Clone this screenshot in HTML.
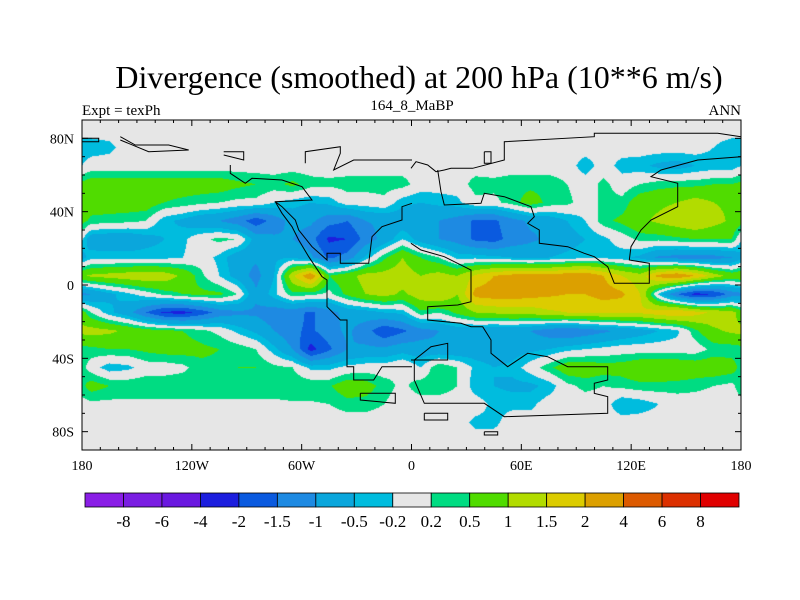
<!DOCTYPE html>
<html><head><meta charset="utf-8">
<style>
body{margin:0;background:#fff;width:800px;height:600px;overflow:hidden;font-family:"Liberation Serif",serif}
#wrap{position:relative;width:800px;height:600px}
canvas{position:absolute;left:82px;top:120px}
svg{position:absolute;left:0;top:0}
</style></head><body>
<div id="wrap">
<canvas id="cv" width="659" height="330"></canvas>
<svg id="sv" width="800" height="600">
<text x="419" y="88" text-anchor="middle" font-size="32" font-family="Liberation Serif,serif">Divergence (smoothed) at 200 hPa (10**6 m/s)</text>
<text x="82" y="115" font-size="15">Expt = texPh</text>
<text x="412" y="110" text-anchor="middle" font-size="15">164_8_MaBP</text>
<text x="741" y="115" text-anchor="end" font-size="15">ANN</text>
</svg>
</div>
<script>
const lats=[85,75,65,55,45,35,25,15,5,-5,-15,-25,-35,-45,-55,-65,-75,-85];
const lons=[-175,-165,-155,-145,-135,-125,-115,-105,-95,-85,-75,-65,-55,-45,-35,-25,-15,-5,5,15,25,35,45,55,65,75,85,95,105,115,125,135,145,155,165,175];
const row85=[0,0,0,0,0,0,0,0,0,0,0,0,0,0,0,0,0,0, 0,0,0,0,0,0,0,0,0,0,0,0,0,0,0,0,0,0];
const row75=[-0.4,-0.3,0,0,0,0,0,0,0,0,0,0,0,0,0,0,0,0, 0,0,0,0,0,0,0,0,0,0,0,0,0,0,0,0,-0.2,-0.4];
const row65=[0,0,0,0,0,0,0,0,0,0,0,0,0,0,0,0,0,0, 0,0,0,0,0,0,0,0,0,-0.4,0,-0.35,-0.4,-0.6,-0.7,-0.5,-0.4,-0.4];
const row55=[0.75,0.75,0.75,0.75,0.75,0.75,0.75,0.75,0.6,0.5,0.4,0.6,0.35,0.3,0.35,0.35,0.35,0.35, 0,0,0,0.35,0.3,0.4,0.4,0.4,0.2,0,0.3,0,0.2,0.35,0.4,0.4,0.5,0.5];
const row45=[0.75,0.75,0.75,0.75,0.5,0.4,0.3,0.2,0.1,0.1,-0.2,-0.35,-0.5,-0.4,0,0,0.1,-0.4, -0.5,-0.4,-0.3,0.1,0.1,0.35,0.7,0.4,0.3,0,0.3,0.3,0.8,0.9,1.0,1.2,1.0,0.9];
const row35=[0.4,0.35,0.3,0.2,-0.4,-0.6,-0.9,-1.0,-1.3,-1.8,-1.3,-0.8,-0.9,-1.3,-1.5,-1.0,-0.9,-0.8, -0.9,-1.0,-1.2,-1.6,-1.6,-1.2,-0.9,-0.8,-0.5,-0.2,0.4,0.6,0.9,1.1,1.3,1.5,1.2,0.9];
const row25=[-0.8,-0.9,-0.9,-0.7,-0.5,-0.3,0.1,0.3,0.2,-0.7,-0.9,-1.0,-1.3,-2.1,-2.0,-1.3,-0.8,-0.2, -0.7,-1.0,-1.2,-1.6,-1.7,-1.3,-1.1,-0.9,-0.7,-0.5,-0.3,0,0.3,0.3,0.4,0.5,0.5,0.5];
const row15=[-0.3,-0.3,-0.3,-0.3,-0.3,-0.2,0,-0.3,-0.8,-0.9,-0.6,-0.5,-0.9,-1.6,-1.3,-0.4,0.4,1.0, 0.5,0.2,-0.3,-0.3,-0.4,-0.5,-0.6,-0.5,-0.4,-0.3,-0.3,-0.4,-0.6,-1.1,-1.2,-1.2,-1.2,-1.0];
const row5=[1.1,1.2,1.3,1.4,1.3,0.9,0.3,-0.2,-0.7,-1.2,-0.5,1.4,2.5,0.5,0.8,1.2,1.2,1.3, 1.0,1.2,1.0,1.6,2.0,2.2,2.3,2.2,2.4,2.5,2.0,1.5,1.2,2.2,2.5,2.0,1.3,0.8];
const rowm5=[-1.0,-0.6,-0.3,0,0.3,0.5,0.6,0.6,0.2,-0.9,-0.3,0.4,0.3,0.1,0.6,1.0,1.2,0.9, 1.3,1.5,1.0,2.2,2.3,2.3,2.2,2.1,2.0,2.0,2.2,2.1,1.5,-0.3,-1.5,-2.2,-2.0,-1.3];
const rowm15=[0.2,-0.4,-0.8,-1.5,-2.1,-2.2,-1.8,-1.3,-1.1,-1.1,-1.3,-1.3,-1.6,-1.2,-0.8,-0.7,-0.5,-0.4, 0.4,0.2,0.6,1.0,1.1,1.2,1.2,1.4,1.5,1.6,1.6,1.6,1.6,1.8,2.0,1.7,1.4,1.2];
const rowm25=[1.2,1.1,0.9,0.7,0.6,0.5,0.3,0.1,-0.3,-0.6,-1.0,-1.4,-1.6,-1.2,-0.9,-1.3,-1.9,-1.6, -1.2,-1.0,-0.8,-0.8,-0.9,-0.9,-1.0,-1.3,-1.5,-1.3,-1.1,-0.9,-0.7,-0.5,-0.3,0.4,0.9,1.1];
const rowm35=[0.4,0.5,0.5,0.6,0.7,0.7,0.6,0.5,0.4,0.2,-0.4,-1.0,-2.2,-1.6,-1.0,-0.9,-0.9,-0.7, -0.8,-0.9,-0.9,-0.8,-0.8,-0.7,-0.6,-0.5,-0.3,-0.2,-0.1,0,0,0,0,0,0.3,0.3];
const rowm45=[0,-0.4,-0.3,0,0,0.1,0.4,0.4,0.5,0.5,0.3,0.2,-0.3,-0.3,-0.1,0,0,0.2, -0.2,0.5,0.2,-0.3,-0.5,-0.4,0,0.4,0.8,0.8,0.7,0.7,0.9,0.9,0.9,0.8,0.8,0.7];
const rowm55=[0.7,0.5,0.45,0.45,0.45,0.45,0.45,0.45,0.45,0.45,0.45,0.45,0.45,0.45,0.8,0.7,0.35,0.1, 0.4,0.4,0.2,-0.4,-0.5,-0.6,-0.6,-0.4,0.1,0.3,0.2,0.3,0.4,0.4,0.35,0.3,0.2,0.1];
const rowm65=[0.1,0.1,0.1,0.1,0.1,0.1,0.1,0.1,0.1,0.1,0.1,0.15,0.15,0.2,0.35,0.35,0.2,0, 0,0,0,0,-0.3,-0.3,-0.3,0,0,0,0,-0.5,-0.4,-0.2,0,0,0,0];
const rowm75=[0,0,0,0,0,0,0,0,0,0,0,0,0,0,0,0,0,0, 0,0,0,-0.3,-0.3,0,0,0,0,0,0,0,0,0,0,0,0,0];
const rowm85=[0,0,0,0,0,0,0,0,0,0,0,0,0,0,0,0,0,0, 0,0,0,0,0,0,0,0,0,0,0,0,0,0,0,0,0,0];
const field=[row85,row75,row65,row55,row45,row35,row25,row15,row5,rowm5,rowm15,rowm25,rowm35,rowm45,rowm55,rowm65,rowm75,rowm85];
const levels=[-8,-6,-4,-2,-1.5,-1,-0.5,-0.2,0.2,0.5,1,1.5,2,4,6,8];
const levelLabels=["-8","-6","-4","-2","-1.5","-1","-0.5","-0.2","0.2","0.5","1","1.5","2","4","6","8"];
const colors=["#8a1ee6","#7a1ee2","#6a18e0","#1c1ede","#0a5adf","#1e8ae2","#0aa6dc","#00bcde","#e6e6e6","#00dc82","#50dc00","#b2dc00","#dccc00","#dca000","#dc5a00","#dc3000","#e00000"];

const X0=82,Y0=120,W=659,H=330;
const xOf=lon=>X0+(lon+180)/360*W;
const yOf=lat=>Y0+(90-lat)/180*H;
function rgb(h){return [parseInt(h.substr(1,2),16),parseInt(h.substr(3,2),16),parseInt(h.substr(5,2),16)];}
const crgb=colors.map(rgb);
function val(lon,lat){
  let fi=(lon-lons[0])/10; let i0=Math.floor(fi); let t=fi-i0;
  let a=((i0%36)+36)%36, b=(a+1)%36;
  let fj=(lats[0]-lat)/10; fj=Math.max(0,Math.min(17,fj)); let j0=Math.min(16,Math.floor(fj)); let u=fj-j0;
  const r0=field[j0], r1=field[j0+1];
  const v0=r0[a]*(1-t)+r0[b]*t, v1=r1[a]*(1-t)+r1[b]*t;
  return v0*(1-u)+v1*u;
}
function lvl(v){let k=0;while(k<levels.length&&v>=levels[k])k++;return k;}
const cv=document.getElementById('cv'),ctx=cv.getContext('2d');
const img=ctx.createImageData(W,H);
for(let py=0;py<H;py++){for(let px=0;px<W;px++){
  const lon=-180+(px+0.5)/W*360, lat=90-(py+0.5)/H*180;
  const c=crgb[lvl(val(lon,lat))];const o=(py*W+px)*4;
  img.data[o]=c[0];img.data[o+1]=c[1];img.data[o+2]=c[2];img.data[o+3]=255;}}
ctx.putImageData(img,0,0);

const NS='http://www.w3.org/2000/svg';
const sv=document.getElementById('sv');
function mk(tag,at){const e=document.createElementNS(NS,tag);for(const k in at)e.setAttribute(k,at[k]);sv.appendChild(e);return e;}
const coastL=[[[445,135],[445,160],[490,190],[510,175],[600,180],[660,200],[690,240],[580,245],[600,280],[630,320],[650,360],[680,410],[720,470],[735,480],[735,560],[775,600],[795,600],[795,740],[815,740],[815,780],[875,780],[900,740],[990,740]],
[[990,250],[960,260],[960,300],[900,320],[870,350],[860,430],[775,430],[775,400],[735,400],[735,420],[690,380],[650,330],[640,300],[600,260],[580,245]],
[[670,130],[670,95],[775,80],[775,100],[755,150],[815,120],[990,120]],
[[0,55],[50,55],[50,65],[0,65]],[[115,50],[160,75],[260,75],[320,90],[200,95],[115,60]],[[425,95],[485,95],[485,120],[425,105]],[[835,820],[940,820],[940,850],[835,840],[835,820]]];
const coastR=[[[0,145],[15,125],[50,135],[75,155],[100,150],[120,145],[185,145],[280,120],[280,65],[550,50],[550,40],[920,40],[990,50]],
[[990,110],[860,120],[750,150],[720,170],[800,190],[800,260],[720,300],[690,330],[660,380],[655,420],[715,430],[715,490],[610,490],[590,440],[550,410],[520,400],[470,380],[385,370],[385,330],[350,310],[370,290],[360,260],[280,230],[220,220],[210,250],[100,255],[90,215],[80,150]],
[[0,370],[30,390],[100,410],[160,440],[180,450],[180,545],[140,555],[50,560],[50,600],[150,610],[180,620],[215,620],[240,660],[240,700],[290,740],[350,700],[410,710],[470,740],[590,740],[590,780],[550,790],[550,820],[590,830],[590,880],[280,890],[220,850],[40,850],[10,780],[10,720],[60,680],[110,670],[110,720],[0,720]],
[[40,880],[110,880],[110,900],[40,900],[40,880]],[[220,935],[260,935],[260,945],[220,945],[220,935]],[[220,95],[240,95],[240,130],[220,130],[220,95]]];
function drawCoast(list,ox){list.forEach(pl=>{const pts=pl.map(p=>(ox+p[0]/3).toFixed(1)+','+(120+p[1]/3).toFixed(1)).join(' ');
  const e=mk('polyline',{points:pts,fill:'none',stroke:'#000','stroke-width':1});
  
  });}
drawCoast(coastL,82);drawCoast(coastR,411);
const fr=mk('rect',{x:X0,y:Y0,width:W,height:H,fill:'none',stroke:'#000','stroke-width':1});


for(let lon=-180;lon<=180;lon+=10){const x=xOf(lon);const L=lon%60===0?6:3;
  mk('line',{x1:x,x2:x,y1:Y0,y2:Y0+L,stroke:'#000'});mk('line',{x1:x,x2:x,y1:Y0+H,y2:Y0+H-L,stroke:'#000'});}
for(let lat=-90;lat<=90;lat+=10){const y=yOf(lat);const L=lat%40===0?6:3;
  mk('line',{x1:X0,x2:X0+L,y1:y,y2:y,stroke:'#000'});mk('line',{x1:X0+W,x2:X0+W-L,y1:y,y2:y,stroke:'#000'});}
const xt=[-180,-120,-60,0,60,120,180];const xtl=["180","120W","60W","0","60E","120E","180"];
xt.forEach((v,i)=>{const t=mk('text',{x:xOf(v),y:470,'text-anchor':'middle','font-size':14});t.textContent=xtl[i];
  
  });
const yt=[80,40,0,-40,-80];const ytl=["80N","40N","0","40S","80S"];
yt.forEach((v,i)=>{const t=mk('text',{x:74,y:yOf(v)+5,'text-anchor':'end','font-size':14});t.textContent=ytl[i];
  
  });
const CB0=85,CBW=654/17;
colors.forEach((c,i)=>{const r=mk('rect',{x:CB0+i*CBW,y:493,width:CBW,height:14,fill:c,stroke:'#000','stroke-width':0.8});
  
  });
levelLabels.forEach((l,i)=>{const t=mk('text',{x:CB0+(i+1)*CBW,y:527,'text-anchor':'middle','font-size':17});t.textContent=l;
  
  });
</script>
</body></html>
